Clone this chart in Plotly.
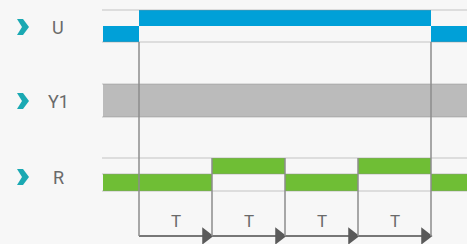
import plotly.graph_objects as go

# ---------------- data ----------------
row_labels = ["U", "Y1", "R"]
period_label = "T"

# U signal: edges (in units of T) and state per segment (1 = high, 0 = low)
u_edges = [-0.5, 0, 4, 4.5]
u_states = [0, 1, 0]

# Y1: continuous band
y1_edges = [-0.5, 4.5]

# R signal
r_edges = [-0.5, 1, 2, 3, 4, 4.5]
r_states = [0, 1, 0, 1, 0]

# period boundaries (T intervals)
t_edges = [0, 1, 2, 3, 4]

# ---------------- layout constants (pixels) ----------------
W, H = 467, 244
ORIGIN_PX = 139.0
T_PX = 73.0
BG = "#f7f7f7"
BLUE = "#00a0d8"
GREEN = "#6fbe35"
GRAY = "#bbbbbb"
TEAL = "#1aa9b3"
TXT = "#6a6a6a"
DASH = "#8f8f8f"
VLINE = "#8c8c8c"

U_ROW = dict(top=10, mid=26, bottom=42)
Y1_ROW = dict(top=84, bottom=117)
R_ROW = dict(top=158, mid=174, bottom=191)
ARROW_Y = 236
T_LABEL_Y = 221
LABEL_X_PX = 58
CHEV_X_PX = 23
LABEL_Y = [27, 101, 177]
FONT = "Roboto, Liberation Sans, Arial, sans-serif"


def px2t(px):
    return (px - ORIGIN_PX) / T_PX


fig = go.Figure()


def add_signal(edges, states, row, color):
    xs, ws, bases, hs = [], [], [], []
    for i, s in enumerate(states):
        a, b = edges[i], edges[i + 1]
        xs.append((a + b) / 2)
        ws.append(b - a)
        if s == 1:
            bases.append(row["top"])
            hs.append(row["mid"] - row["top"])
        else:
            bases.append(row["mid"])
            hs.append(row["bottom"] - row["mid"])
    fig.add_trace(go.Bar(x=xs, width=ws, base=bases, y=hs,
                         marker=dict(color=color, line=dict(width=0)),
                         hoverinfo="skip", showlegend=False))


add_signal(u_edges, u_states, U_ROW, BLUE)
add_signal(r_edges, r_states, R_ROW, GREEN)

# Y1 band
fig.add_trace(go.Bar(x=[(y1_edges[0] + y1_edges[1]) / 2],
                     width=[y1_edges[1] - y1_edges[0]],
                     base=[Y1_ROW["top"]], y=[Y1_ROW["bottom"] - Y1_ROW["top"]],
                     marker=dict(color=GRAY, line=dict(width=0)),
                     hoverinfo="skip", showlegend=False))

x0, x1 = u_edges[0], u_edges[-1]

# dotted guide lines
for yy in [U_ROW["top"], U_ROW["bottom"], Y1_ROW["top"], Y1_ROW["bottom"],
           R_ROW["top"], R_ROW["mid"], R_ROW["bottom"]]:
    fig.add_shape(type="line", x0=x0, x1=x1, y0=yy, y1=yy, xref="x", yref="y",
                  line=dict(color=DASH, width=1, dash="1px,1px"), layer="above")

# vertical lines
for t in t_edges:
    top = U_ROW["bottom"] if t in (t_edges[0], t_edges[-1]) else R_ROW["top"]
    fig.add_shape(type="line", x0=t, x1=t, y0=top, y1=ARROW_Y, xref="x", yref="y",
                  line=dict(color=VLINE, width=1.5), layer="above")

# arrows
for i in range(len(t_edges) - 1):
    a, b = t_edges[i], t_edges[i + 1]
    fig.add_trace(go.Scatter(x=[a, b], y=[ARROW_Y, ARROW_Y], mode="lines",
                             line=dict(color="#777777", width=2),
                             hoverinfo="skip", showlegend=False))
    fig.add_trace(go.Scatter(x=[b - 6 / T_PX], y=[ARROW_Y], mode="markers",
                             marker=dict(symbol="triangle-right", size=15,
                                         color="#5a5a5a", line=dict(width=0)),
                             hoverinfo="skip", showlegend=False))
    fig.add_annotation(x=(a + b) / 2, y=T_LABEL_Y, text=period_label,
                       showarrow=False, xref="x", yref="y",
                       font=dict(family=FONT, size=17, color=TXT))

# row labels and chevrons
for lab, ly in zip(row_labels, LABEL_Y):
    fig.add_annotation(x=px2t(LABEL_X_PX), y=ly, text=lab, showarrow=False,
                       xref="x", yref="y",
                       font=dict(family=FONT, size=18, color=TXT))
    fig.add_shape(type="path", xref="x", yref="y",
                  xsizemode="pixel", ysizemode="pixel",
                  xanchor=px2t(CHEV_X_PX), yanchor=ly,
                  path="M -6,-8 L 0,-8 L 6,0 L 0,8 L -6,8 L -1,0 Z",
                  fillcolor=TEAL, line=dict(width=0), layer="above")

fig.update_layout(
    width=W, height=H,
    margin=dict(l=0, r=0, t=0, b=0),
    paper_bgcolor=BG, plot_bgcolor=BG,
    barmode="overlay", bargap=0,
    xaxis=dict(range=[px2t(0), px2t(W)], visible=False, fixedrange=True),
    yaxis=dict(range=[H, 0], visible=False, fixedrange=True),
    showlegend=False,
)

fig.write_html("out.html",
               config=dict(displayModeBar=False),
               post_script="document.body.style.margin='0px';"
                           "document.body.style.background='" + BG + "';")
